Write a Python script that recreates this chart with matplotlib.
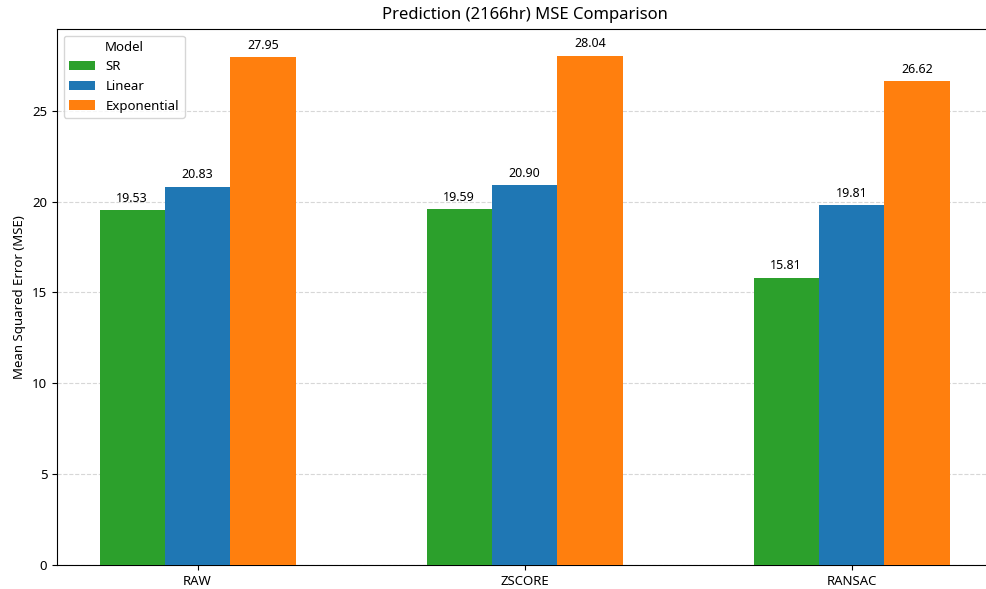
import matplotlib
matplotlib.use('Agg')
import matplotlib.pyplot as plt
import numpy as np

plt.rcParams['font.family'] = ['Noto Sans', 'DejaVu Sans']

methods = ['RAW', 'ZSCORE', 'RANSAC']
models = ['SR', 'Linear', 'Exponential']
sr_mse = [19.53, 19.59, 15.81]
linear_mse = [20.83, 20.90, 19.81]
exp_mse = [27.95, 28.04, 26.62]
colors = ['#2ca02c', '#1f77b4', '#ff7f0e']

x = np.arange(len(methods))
width = 0.2

fig = plt.figure(figsize=(9.87, 5.89), dpi=100)
# the original is cropped on the right, so the axes run past the edge
unit = 327.0
ax = fig.add_axes([57 / 987, 24 / 589, (1060 - 57) / 987, 536 / 589])

for i, (name, vals) in enumerate(zip(models, [sr_mse, linear_mse, exp_mse])):
    bars = ax.bar(x + (i - 1) * width, vals, width, label=name, color=colors[i], zorder=3)
    for b, v in zip(bars, vals):
        ax.annotate(f'{v:.2f}', (b.get_x() + b.get_width() / 2, v),
                    xytext=(0, 4), textcoords='offset points',
                    ha='center', va='bottom', fontsize=9)

ax.set_xticks(x)
ax.set_xticklabels(methods, fontsize=9.5)
ax.tick_params(axis='y', labelsize=9.5)
ax.set_xlim(-0.43, -0.43 + (1060 - 57) / unit)
ax.set_ylim(0, 29.5)
ax.spines['right'].set_visible(False)
ax.set_ylabel('Mean Squared Error (MSE)', fontsize=9.5)
ax.text(0.5 * (57 + 993) / 987, 1 - 15 / 589, 'Prediction (2166hr) MSE Comparison',
        transform=fig.transFigure, ha='center', va='center', fontsize=12)
ax.yaxis.grid(True, linestyle='--', alpha=0.5, zorder=0)
ax.legend(title='Model', loc='upper left', fontsize=9.5, title_fontsize=9.5)

plt.savefig('out.png', dpi=100)
